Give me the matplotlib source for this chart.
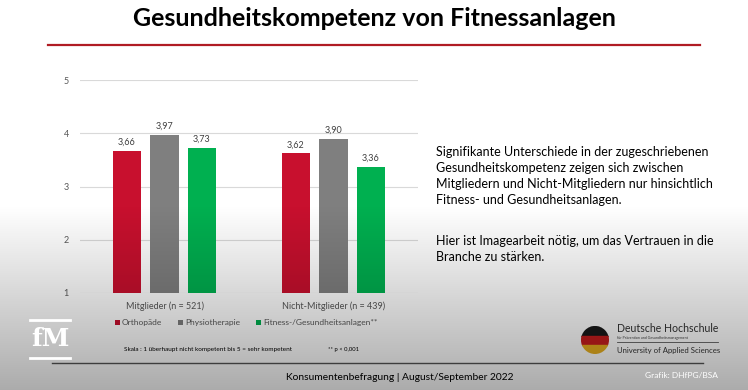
import numpy as np
import matplotlib
matplotlib.use('Agg')
from matplotlib import pyplot as plt
from matplotlib.patches import Rectangle, Circle

plt.rcParams['font.family'] = ['Lato', 'DejaVu Sans']

# data
groups = ['Mitglieder (n = 521)', 'Nicht-Mitglieder (n = 439)']
series = ['Orthopäde', 'Physiotherapie', 'Fitness-/Gesundheitsanlagen**']
orthopaede = [3.66, 3.62]
physio = [3.97, 3.90]
fitness = [3.73, 3.36]
colors = ['#c8102e', '#7f7f7f', '#00b050']
yticks = [1, 2, 3, 4, 5]

W, H = 748, 390
fig = plt.figure(figsize=(W / 100, H / 100), dpi=100)


def fx(px):
    return px / W


def fy(py):
    return 1 - py / H


# title and red rule
fig.text(0.5, fy(19), 'Gesundheitskompetenz von Fitnessanlagen',
         ha='center', va='center', fontsize=18, fontweight='bold',
         color='black')
fig.add_artist(plt.Line2D([fx(48), fx(700)], [fy(45), fy(45)],
                          color='#b01c24', lw=1.6))

# bar chart
ax = fig.add_axes([fx(80), fy(293), fx(418) - fx(80), fy(80) - fy(293)])
x = np.arange(len(groups))
width = 0.17
offset = 0.222
for i, (vals, col) in enumerate(zip([orthopaede, physio, fitness], colors)):
    bars = ax.bar(x + (i - 1) * offset, [v - 1 for v in vals], width,
                  bottom=1, color=col, label=series[i], zorder=3)
    for b, v in zip(bars, vals):
        ax.text(b.get_x() + b.get_width() / 2, v + 0.08,
                f'{v:.2f}'.replace('.', ','), ha='center', va='bottom',
                fontsize=6.5, color='#404040')

ax.set_xlim(-0.5, 1.5)
ax.set_ylim(1, 5)
ax.set_yticks(yticks)
ax.set_xticks(x)
ax.set_xticklabels(groups)
ax.tick_params(axis='both', length=0, labelsize=6.5, colors='#595959')
ax.tick_params(axis='y', pad=8)
ax.tick_params(axis='x', pad=6)
ax.grid(axis='y', color='#d9d9d9', lw=0.8, zorder=0)
for s in ax.spines.values():
    s.set_visible(False)
ax.set_facecolor('none')

leg = ax.legend(loc='center', bbox_to_anchor=(fx(246), fy(323)),
                bbox_transform=fig.transFigure, ncol=3, fontsize=6,
                frameon=False, handlelength=0.6, handleheight=0.6,
                handletextpad=0.2, columnspacing=2.0)
for t in leg.get_texts():
    t.set_color('#595959')

fig.text(fx(124), fy(350), 'Skala : 1 überhaupt nicht kompetent bis 5 = sehr kompetent',
         ha='left', va='center', fontsize=4.6, color='black')
fig.text(fx(328), fy(350), '** p < 0,001', ha='left', va='center',
         fontsize=4.2, color='black')

# right hand text
fig.text(fx(436), fy(176),
         'Signifikante Unterschiede in der zugeschriebenen\n'
         'Gesundheitskompetenz zeigen sich zwischen\n'
         'Mitgliedern und Nicht-Mitgliedern nur hinsichtlich\n'
         'Fitness- und Gesundheitsanlagen.',
         ha='left', va='center', fontsize=9.0, linespacing=1.38,
         color='black')
fig.text(fx(436), fy(249),
         'Hier ist Imagearbeit nötig, um das Vertrauen in die\n'
         'Branche zu stärken.',
         ha='left', va='center', fontsize=9.0, linespacing=1.38,
         color='black')

# DH logo
lg = fig.add_axes([0, 0, 1, 1], zorder=2)
lg.set_xlim(0, W)
lg.set_ylim(H, 0)
lg.axis('off')
ball = Circle((595, 340), 14, transform=lg.transData)
for y0, c in [(326, '#1a1a1a'), (335.5, '#c81e1e'), (345, '#e8b020')]:
    r = Rectangle((580, y0), 30, 9.5, color=c, clip_path=ball)
    lg.add_patch(r)
lg.text(617, 328, 'Deutsche Hochschule', fontsize=7.6, color='#333333',
        va='center', ha='left')
lg.text(617, 338, 'für Prävention und Gesundheitsmanagement', fontsize=2.6,
        color='#444444', va='center', ha='left')
lg.plot([617, 718], [342, 342], color='#555555', lw=0.6)
lg.text(617, 350, 'University of Applied Sciences', fontsize=5.6,
        color='#333333', va='center', ha='left')
lg.plot([52, 703], [363, 363], color='#555555', lw=1.0)
lg.text(400, 378, 'Konsumentenbefragung | August/September 2022',
        fontsize=7.4, color='black', ha='center', va='center')

# grey gradient over the lower part
ov = fig.add_axes([0, 0, 1, 1], zorder=3)
ov.axis('off')
rows = np.linspace(0, 1, H)
alpha = np.clip((rows * H - 205) / (H - 205), 0, 1) * 0.33
img = np.zeros((H, 1, 4))
img[:, 0, 3] = alpha
ov.imshow(img, extent=[0, 1, 0, 1], aspect='auto', interpolation='bilinear')
ov.set_xlim(0, 1)
ov.set_ylim(0, 1)

# white marks on top
top = fig.add_axes([0, 0, 1, 1], zorder=4)
top.set_xlim(0, W)
top.set_ylim(H, 0)
top.axis('off')
top.plot([30, 70], [320, 320], color='white', lw=2)
top.plot([30, 70], [358, 358], color='white', lw=2)
top.text(50, 339, 'fM', fontsize=18, fontweight='bold', color='white',
         ha='center', va='center', family=['DejaVu Serif'])
top.text(718, 375, 'Grafik: DHfPG/BSA', fontsize=6, color='white',
         ha='right', va='center')

plt.savefig('out.png', dpi=100)
